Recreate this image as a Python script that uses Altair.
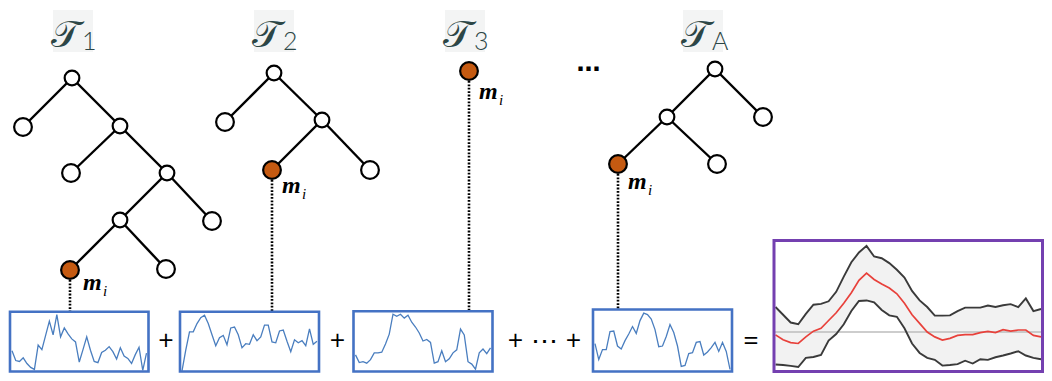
import altair as alt
import pandas as pd

# ---------------- data ----------------
# tree nodes (diagram units = reference pixels)
node_tree = ["1"] * 9 + ["2"] * 5 + ["3"] + ["A"] * 5
node_x = [72, 23, 120, 71, 167, 120, 212, 70, 166,
          274, 225, 322, 272, 370,
          469,
          715, 667, 763, 618, 717]
node_y = [78, 127, 126, 173, 173, 220, 221, 270, 269,
          73, 122, 120, 170, 170,
          71,
          69, 117, 117, 164, 164]
node_kind = ["internal", "leaf", "internal", "leaf", "internal", "internal", "leaf", "mi", "leaf",
             "internal", "leaf", "internal", "mi", "leaf",
             "mi",
             "internal", "internal", "leaf", "mi", "leaf"]
edge_from = [0, 0, 2, 2, 4, 4, 5, 5, 9, 9, 11, 11, 15, 15, 16, 16]
edge_to = [1, 2, 3, 4, 5, 6, 7, 8, 10, 11, 12, 13, 16, 17, 18, 19]

title_sub = ["1", "2", "3", "A"]
title_x = [80, 281, 472, 710]

m_label_x = [83, 282, 479, 628]
m_label_y = [290, 193, 99, 189]

# blue panels (one per tree)
box_left = [10, 180, 353.5, 593]
box_right = [148.5, 319, 492.5, 732]
box_top = [311.7, 311.7, 311.3, 309.5]
box_bottom = [371.5, 371.5, 371.5, 371.5]

series_1 = [34.7, 18.3, 16.8, 22.8, 13.4, 6.9, 3.5, 44.1, 36.6, 60.4, 84.2, 61.4, 95.0, 57.9, 72.8,
            62.9, 54.5, 49.5, 15.8, 36.6, 57.9, 35.6, 16.8, 14.9, 31.7, 35.6, 41.6, 33.2, 20.8, 39.6,
            25.7, 21.8, 13.4, 28.2, 40.6, 2.0, 30.7]
series_2 = [1.0, 35.6, 66.3, 66.3, 80.2, 90.1, 94.1, 80.2, 61.4, 43.1, 56.4, 60.4, 44.6, 72.8, 74.3,
            61.4, 39.6, 46.5, 45.5, 61.4, 51.5, 57.9, 77.7, 77.7, 49.5, 48.0, 67.8, 69.3, 50.5, 33.2,
            53.0, 48.0, 51.5, 43.1, 71.3, 45.5, 50.5]
series_3 = [27.6, 14.8, 16.3, 13.8, 19.7, 31.0, 31.0, 32.0, 45.8, 62.1, 95.1, 91.6, 95.1, 88.7, 93.6,
            81.8, 73.9, 64.0, 50.7, 53.2, 48.3, 13.8, 16.3, 34.5, 16.3, 21.2, 31.0, 36.0, 70.4, 60.6,
            16.3, 12.3, 3.9, 31.0, 37.4, 29.6, 39.4]
series_4 = [44.9, 19.3, 35.3, 35.3, 64.3, 65.2, 41.1, 36.2, 49.8, 60.4, 72.5, 61.4, 82.1, 94.2, 91.8,
            84.5, 67.6, 40.1, 41.1, 56.5, 75.8, 62.8, 41.1, 8.2, 9.7, 29.0, 30.4, 46.9, 48.3, 26.6,
            31.4, 38.6, 46.9, 32.4, 46.9, 32.4, 3.4]
box_series = [series_1, series_2, series_3, series_4]

# purple result panel (standardised units, 0 = grey reference line)
panel_upper = [0.87, 0.60, 0.33, 0.27, 0.63, 0.95, 0.98, 1.07, 1.40, 1.93, 2.43, 2.77, 3.00, 2.63, 2.57,
               2.40, 2.17, 1.90, 1.43, 1.10, 0.87, 0.57, 0.57, 0.58, 0.73, 0.85, 0.85, 0.85, 0.92, 0.87,
               0.93, 0.97, 0.87, 1.17, 0.73, 0.80]
panel_mean = [-0.10, -0.27, -0.37, -0.40, -0.17, 0.03, 0.13, 0.40, 0.67, 1.00, 1.37, 1.80, 2.05, 1.83, 1.67,
              1.53, 1.33, 1.00, 0.60, 0.30, 0.00, -0.17, -0.28, -0.22, -0.12, -0.09, -0.09, -0.02, 0.02, -0.02,
              0.08, 0.03, 0.07, 0.07, -0.12, -0.17]
panel_lower = [-1.13, -1.15, -1.18, -1.22, -0.90, -0.87, -0.80, -0.30, -0.07, 0.27, 0.73, 1.08, 1.10, 1.03, 0.77,
               0.58, 0.53, 0.13, -0.40, -0.73, -0.90, -0.97, -1.17, -1.15, -1.12, -1.00, -1.10, -0.95, -0.97, -0.88,
               -0.82, -0.75, -0.67, -0.82, -0.90, -0.95]

ops_text = ["+", "+", "+", "\u22ef", "+", "="]
ops_x = [166, 337.5, 515.5, 544, 573.5, 751]

# ---------------- layout constants ----------------
PANEL = dict(left=774, right=1042.5, top=240.5, bottom=371.5, x0=775.5, x1=1041, zero=332, unit=28.7)
OPS_Y = 342

# ---------------- build tables ----------------
nodes = pd.DataFrame({"tree": node_tree, "x": node_x, "y": node_y, "kind": node_kind})
edges = pd.DataFrame({
    "x": [node_x[a] for a in edge_from], "y": [node_y[a] for a in edge_from],
    "x2": [node_x[b] for b in edge_to], "y2": [node_y[b] for b in edge_to],
})
mi_nodes = nodes[nodes.kind == "mi"].reset_index(drop=True)
dots = pd.DataFrame({
    "x": mi_nodes.x, "y": mi_nodes.y + 10, "x2": mi_nodes.x, "y2": box_top,
})
titles = pd.DataFrame({"x": title_x, "xs": [v + 2 for v in title_x], "sub": title_sub,
                       "T": ["\U0001D4AF"] * 4, "yT": [47] * 4, "yS": [50] * 4})
title_bg = pd.DataFrame({"x": [t - 27 for t in title_x], "x2": [t + 13 for t in title_x],
                         "y": [10] * 4, "y2": [52] * 4})
mlab = pd.DataFrame({"x": m_label_x, "y": m_label_y,
                     "xi": [v + 20 for v in m_label_x], "yi": [v + 6 for v in m_label_y]})

rows = []
for b, s in enumerate(box_series):
    n = len(s)
    for i, v in enumerate(s):
        rows.append({
            "box": b,
            "i": i,
            "x": box_left[b] + 2 + i * (box_right[b] - box_left[b] - 4) / (n - 1),
            "y": box_bottom[b] - v / 100 * (box_bottom[b] - box_top[b]),
        })
series_df = pd.DataFrame(rows)
boxes = pd.DataFrame({"x": box_left, "x2": box_right, "y": box_top, "y2": box_bottom})

prow = []
npts = len(panel_mean)
for k in range(npts):
    px = PANEL["x0"] + k * (PANEL["x1"] - PANEL["x0"]) / (npts - 1)
    prow.append({"k": k, "x": px,
                 "up": PANEL["zero"] - panel_upper[k] * PANEL["unit"],
                 "mean": PANEL["zero"] - panel_mean[k] * PANEL["unit"],
                 "lo": PANEL["zero"] - panel_lower[k] * PANEL["unit"]})
panel_df = pd.DataFrame(prow)
panel_long = panel_df.melt(id_vars=["k", "x"], value_vars=["up", "lo"], var_name="line", value_name="y")
zero_df = pd.DataFrame({"x": [PANEL["left"]], "x2": [PANEL["right"]], "y": [PANEL["zero"]]})
panel_box = pd.DataFrame({"x": [PANEL["left"]], "x2": [PANEL["right"]],
                          "y": [PANEL["top"]], "y2": [PANEL["bottom"]]})
ops = pd.DataFrame({"x": ops_x, "y": [OPS_Y] * len(ops_x), "t": ops_text})
top_dots = pd.DataFrame({"x": [588.5], "y": [70], "t": ["\u22ef"]})

# ---------------- scales (1 unit = 1 reference pixel) ----------------
XS = alt.Scale(domain=[8.0, 1044.0], nice=False, zero=False)
YS = alt.Scale(domain=[8.0, 373.0], reverse=True, nice=False, zero=False)


def X(f="x"):
    return alt.X(f"{f}:Q", scale=XS, axis=None)


def Y(f="y"):
    return alt.Y(f"{f}:Q", scale=YS, axis=None)


# ---------------- layers ----------------
bg = alt.Chart(title_bg).mark_rect(color="#f3f4f4").encode(
    x=X(), x2="x2:Q", y=Y(), y2="y2:Q")

t_glyph = alt.Chart(titles).mark_text(
    align="right", baseline="alphabetic", font="DejaVu Serif", fontSize=38,
    color="#2c4646").encode(x=X(), y=Y("yT"), text="T:N")

t_sub = alt.Chart(titles).mark_text(
    align="left", baseline="alphabetic", font="Lato", fontWeight=300, fontSize=25,
    color="#2c4646").encode(x=X("xs"), y=Y("yS"), text="sub:N")

edge_layer = alt.Chart(edges).mark_rule(color="black", strokeWidth=2.4).encode(
    x=X(), y=Y(), x2="x2:Q", y2="y2:Q")

dot_layer = alt.Chart(dots).mark_rule(color="black", strokeWidth=2.6, strokeDash=[1.8, 1.6]).encode(
    x=X(), y=Y(), x2="x2:Q", y2="y2:Q")

internal = alt.Chart(nodes[nodes.kind == "internal"]).mark_point(
    shape="circle", filled=True, fill="white", stroke="black", strokeWidth=2.2, size=215,
    opacity=1).encode(x=X(), y=Y())
leaves = alt.Chart(nodes[nodes.kind == "leaf"]).mark_point(
    shape="circle", filled=True, fill="white", stroke="black", strokeWidth=2.2, size=315,
    opacity=1).encode(x=X(), y=Y())
orange = alt.Chart(mi_nodes).mark_point(
    shape="circle", filled=True, fill="#c55a11", stroke="black", strokeWidth=2.2, size=315,
    opacity=1).encode(x=X(), y=Y())

m_text = alt.Chart(mlab).mark_text(
    align="left", baseline="alphabetic", font="Liberation Serif", fontWeight="bold",
    fontStyle="italic", fontSize=24, color="black").encode(x=X(), y=Y(), text=alt.value("m"))
i_text = alt.Chart(mlab).mark_text(
    align="left", baseline="alphabetic", font="Liberation Serif",
    fontStyle="italic", fontSize=15, color="black").encode(x=X("xi"), y=Y("yi"), text=alt.value("i"))

series_layer = alt.Chart(series_df).mark_line(color="#4a7ebf", strokeWidth=1.3).encode(
    x=X(), y=Y(), detail="box:N", order="i:Q")
box_layer = alt.Chart(boxes).mark_rect(filled=False, stroke="#4472c4", strokeWidth=2.6).encode(
    x=X(), x2="x2:Q", y=Y(), y2="y2:Q")

band = alt.Chart(panel_df).mark_area(color="#cfcfcf", opacity=0.28).encode(
    x=X(), y=Y("up"), y2="lo:Q")
zero_layer = alt.Chart(zero_df).mark_rule(color="#bdbdbd", strokeWidth=1.6).encode(
    x=X(), x2="x2:Q", y=Y())
bounds = alt.Chart(panel_long).mark_line(color="#3a3a3a", strokeWidth=1.9).encode(
    x=X(), y=Y(), detail="line:N", order="k:Q")
mean_layer = alt.Chart(panel_df).mark_line(color="#e8413b", strokeWidth=1.7).encode(
    x=X(), y=Y("mean"), order="k:Q")
pbox = alt.Chart(panel_box).mark_rect(filled=False, stroke="#7440b0", strokeWidth=3).encode(
    x=X(), x2="x2:Q", y=Y(), y2="y2:Q")

ops_layer = alt.Chart(ops).mark_text(
    align="center", baseline="middle", font="Open Sans", fontSize=27, color="black").encode(
    x=X(), y=Y(), text="t:N")
top_dots_layer = alt.Chart(top_dots).mark_text(
    align="center", baseline="middle", font="DejaVu Sans", fontWeight="bold", fontSize=24,
    color="black").encode(x=X(), y=Y(), text="t:N")

chart = alt.layer(
    bg, t_glyph, t_sub, edge_layer, dot_layer, internal, leaves, orange, m_text, i_text,
    series_layer, box_layer, band, zero_layer, bounds, mean_layer, pbox, ops_layer, top_dots_layer,
).properties(
    width=1036, height=365, padding=0, background="white",
    autosize=alt.AutoSizeParams(type="none"),
).configure_view(stroke=None, strokeWidth=0)

chart.save("out.html", embed_options={"renderer": "svg", "actions": False})
